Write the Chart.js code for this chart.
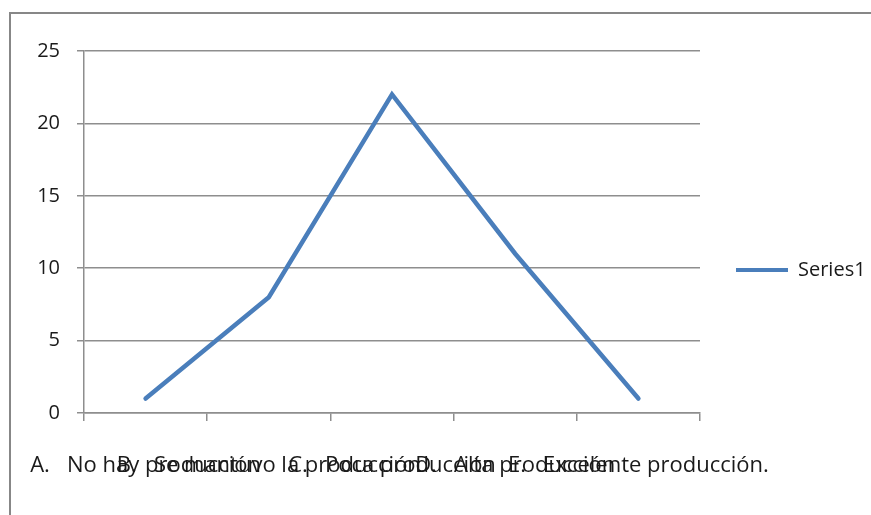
<!DOCTYPE html>
<html>
<head>
<meta charset="utf-8">
<script src="https://cdn.jsdelivr.net/npm/chart.js@4.4.1/dist/chart.umd.min.js"></script>
<style>
  html, body { margin: 0; padding: 0; background: #ffffff; }
  #frame { position: absolute; left: 9px; top: 12px; width: 1000px; height: 1000px; border: 2px solid #878787; }
  #wrap { position: absolute; left: 0; top: 0; width: 871px; height: 515px; }
</style>
</head>
<body>
<div id="frame"></div>
<div id="wrap"><canvas id="c" width="871" height="515"></canvas></div>
<script>
const categories = [
  "A.   No hay producción",
  "B.   Se mantuvo la producción",
  "C.   Poca producción",
  "D.   Alta producción",
  "E.   Excelente producción."
];
const seriesName = "Series1";
const series1 = [1, 8, 22, 11, 1];
const yTicks = [0, 5, 10, 15, 20, 25];

const lineColor = "#4a7ebb";
const gridColor = "#8e8e8e";

const legendWidthPlugin = {
  id: "legendWidth",
  beforeUpdate(chart) {
    const lg = chart.legend;
    if (lg && !lg._patchedFit) {
      const orig = lg.fit;
      lg.fit = function () { orig.call(this); this.width = 171; };
      lg._patchedFit = true;
    }
  }
};

new Chart(document.getElementById("c"), {
  type: "line",
  data: {
    labels: categories,
    datasets: [{
      label: seriesName,
      data: series1,
      borderColor: lineColor,
      backgroundColor: lineColor,
      borderWidth: 4.5,
      borderCapStyle: "round",
      borderJoinStyle: "miter",
      pointRadius: 0,
      pointHoverRadius: 0,
      tension: 0,
      fill: false
    }]
  },
  plugins: [legendWidthPlugin],
  options: {
    responsive: false,
    animation: false,
    layout: { padding: { left: 0, top: 25, right: 0, bottom: 0 } },
    plugins: {
      title: { display: true, text: " ", padding: 0, font: { size: 10, lineHeight: "26px" } },
      tooltip: { enabled: false },
      legend: {
        position: "right",
        align: "center",
        labels: {
          boxWidth: 52,
          boxHeight: 4,
          padding: 36,
          color: "#1a1a1a",
          font: { family: "'Open Sans', sans-serif", size: 20 },
          generateLabels: (chart) => {
            const items = Chart.defaults.plugins.legend.labels.generateLabels(chart);
            items.forEach(it => { it.fillStyle = lineColor; it.lineWidth = 0; it.strokeStyle = "rgba(0,0,0,0)"; });
            return items;
          }
        }
      }
    },
    scales: {
      x: {
        type: "category",
        offset: true,
        afterFit: (s) => { s.height = 102; s.paddingLeft = 0; s.paddingRight = 0; },
        border: { display: true, color: gridColor, width: 1.5 },
        grid: { display: true, offset: true, drawOnChartArea: false, drawTicks: true, tickLength: 8, color: gridColor, lineWidth: 1.5 },
        ticks: {
          autoSkip: false,
          maxRotation: 0,
          minRotation: 0,
          padding: 32,
          color: "#1a1a1a",
          font: { family: "'Open Sans', sans-serif", size: 22 }
        }
      },
      y: {
        min: 0,
        max: 25,
        afterFit: (s) => { s.width = 84; },
        afterBuildTicks: (s) => { s.ticks = yTicks.map(v => ({ value: v })); },
        border: { display: true, color: gridColor, width: 1.5 },
        grid: { display: true, drawTicks: true, tickLength: 7, color: gridColor, lineWidth: 1.5 },
        ticks: {
          padding: 17,
          color: "#1a1a1a",
          font: { family: "'Open Sans', sans-serif", size: 20 }
        }
      }
    }
  }
});
</script>
</body>
</html>
